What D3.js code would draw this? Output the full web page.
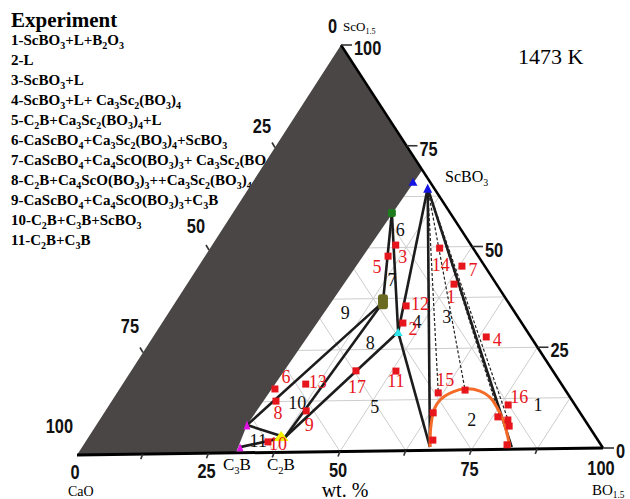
<!DOCTYPE html>
<html>
<head>
<meta charset="utf-8" />
<script src="https://d3js.org/d3.v7.min.js"></script>
<style>
  body { margin: 0; background: #fff; }
  svg text { font-family: "Liberation Serif", "Times New Roman", serif; }
  .axis-num { font-family: "Liberation Sans", Arial, sans-serif; font-weight: bold; font-size: 20px; fill: #111; }
  .legend { font-weight: bold; font-size: 15px; }
</style>
</head>
<body>
<script>
// all compositions are wt%: [BO1.5, ScO1.5], CaO is the rest

const tickValues = [0, 25, 50, 75, 100];

const legendTitle = "Experiment";
const legendItems = [
  "1-ScBO_3+L+B_2O_3",
  "2-L",
  "3-ScBO_3+L",
  "4-ScBO_3+L+ Ca_3Sc_2(BO_3)_4",
  "5-C_2B+Ca_3Sc_2(BO_3)_4+L",
  "6-CaScBO_4+Ca_3Sc_2(BO_3)_4+ScBO_3",
  "7-CaScBO_4+Ca_4ScO(BO_3)_3+ Ca_3Sc_2(BO_3)_4",
  "8-C_2B+Ca_4ScO(BO_3)_3++Ca_3Sc_2(BO_3)_4",
  "9-CaScBO_4+Ca_4ScO(BO_3)_3+C_3B",
  "10-C_2B+C_3B+ScBO_3",
  "11-C_2B+C_3B"
];

// phases / tie-line nodes
const phaseNodes = {
  ScBO3: [34.3, 64.5],
  CaScBO4: [30.5, 58.5],
  Ca4ScO: [39.8, 36.6],
  Ca3Sc2: [46.4, 29.2],
  C3Bup: [28.9, 6.8],
  C3Blow: [30.3, 1.4],
  C2B: [37.7, 3.7],
  Lleft: [66.7, 0.8],
  Lright: [82.4, 0.5]
};

const tieLines = [
  ["C3Bup", "Ca4ScO"], ["C2B", "Ca4ScO"], ["C2B", "Ca3Sc2"],
  ["CaScBO4", "Ca4ScO"], ["CaScBO4", "Ca3Sc2"], ["ScBO3", "Ca3Sc2"],
  ["Ca3Sc2", "Lleft"], ["ScBO3", "Lleft"], ["ScBO3", "Lright"],
  ["C3Bup", "C2B"], ["C3Blow", "C2B"]
];

// dashed tie lines from ScBO3 to the liquid boundary
const dashedEnds = [[61.6, 14.1], [66.4, 14.7], [76.0, 8.5], [77.8, 7.9]];

// liquid region boundary (orange)
const liquidLine = [
  [66.7, 0.8], [64.4, 5.7], [62.9, 9.9], [62.8, 12.3], [64.3, 14.3], [66.3, 15.0],
  [69.4, 14.4], [72.0, 12.9], [74.6, 10.4], [77.4, 7.2], [80.4, 3.0], [82.0, 0.55]
];

// unexplored area (dark grey)
const greyArea = [[0, 0], [0, 100], [31, 69], [28.9, 6.8], [30.2, 0]];

// experiment samples
const expId = [1, 2, 3, 4, 5, 6, 7, 8, 9, 10, 11, 12, 13, 14, 15, 16, 17];
const expBO = [51.2, 46.2, 35.2, 63.9, 35.1, 29.8, 50.5, 31.5, 38.5, 35.0, 50.8, 44.7, 35.1, 44.0, 61.6, 76.5, 43.1];
const expSc = [40.8, 31.4, 50.6, 27.7, 47.9, 15.6, 45.2, 12.6, 10.1, 2.6, 19.6, 35.6, 16.7, 49.7, 14.1, 10.9, 19.8];
// unnumbered samples on the liquid boundary
const extraSamples = [[66.4, 14.7], [76.0, 8.0], [78.3, 7.2], [79.3, 5.7], [63.1, 9.2], [66.4, 2.5], [81.2, 1.1]];

const regionText = ["1", "2", "3", "4", "5", "6", "7", "8", "9", "10", "11"];
const regionBO = [82.2, 71.4, 53.9, 48.8, 51.2, 34.2, 38.8, 42.4, 33.9, 35.8, 33.0];
const regionSc = [10.8, 7.3, 32.7, 31.6, 10.8, 54.3, 42.0, 26.6, 34.1, 12.1, 2.9];

// label offsets (px) for sample numbers
const expLabelOffset = {
  1: [-3, 13], 2: [10, 6], 3: [7, 12], 4: [11, 3], 5: [-11, 11], 6: [11, -12],
  7: [11, 4], 8: [2, 12], 9: [3, 14], 10: [10, 2], 11: [0, 10], 12: [14, -2],
  13: [12, -2], 14: [1, 17], 15: [7, -13], 16: [11, -8], 17: [1, 16]
};

const width = 630, height = 499;
const svg = d3.select('body').append('svg')
  .attr('width', width).attr('height', height);

// ternary frame
const corner = { CaO: [77, 455], BO: [603, 448], Sc: [341, 45] };
const bx = d3.scaleLinear().domain([0, 100]).range([0, corner.BO[0] - corner.CaO[0]]);
const by = d3.scaleLinear().domain([0, 100]).range([0, corner.BO[1] - corner.CaO[1]]);
const sx = d3.scaleLinear().domain([0, 100]).range([0, corner.Sc[0] - corner.CaO[0]]);
const sy = d3.scaleLinear().domain([0, 100]).range([0, corner.Sc[1] - corner.CaO[1]]);
const px = (b, s) => corner.CaO[0] + bx(b) + sx(s);
const py = (b, s) => corner.CaO[1] + by(b) + sy(s);
const pt = d => [px(d[0], d[1]), py(d[0], d[1])];

const line = d3.line().x(d => px(d[0], d[1])).y(d => py(d[0], d[1]));

function richText(sel, str, subSize, shift) {
  const parts = str.split(/(_\{[^}]*\}|_.)/);
  let down = false;
  parts.forEach(p => {
    if (!p) return;
    if (p[0] === '_') {
      const t = p[1] === '{' ? p.slice(2, -1) : p.slice(1);
      sel.append('tspan').attr('dy', down ? 0 : shift).attr('font-size', subSize).text(t);
      down = true;
    } else {
      sel.append('tspan').attr('dy', down ? -shift : 0).text(p);
      down = false;
    }
  });
}

// grid every 12.5 %
const grid = svg.append('g').attr('stroke', '#cdcdcd').attr('stroke-width', 1).attr('fill', 'none');
d3.range(12.5, 100, 12.5).forEach(v => {
  grid.append('path').attr('d', line([[0, v], [100 - v, v]]));
  grid.append('path').attr('d', line([[v, 0], [v, 100 - v]]));
  grid.append('path').attr('d', line([[100 - v, 0], [0, 100 - v]]));
});

// legend (drawn under the grey area)
svg.append('text').attr('x', 11).attr('y', 27)
  .attr('font-size', 21).attr('font-weight', 'bold').text(legendTitle);
legendItems.forEach((item, i) => {
  const t = svg.append('text').attr('class', 'legend').attr('x', 11).attr('y', 45 + i * 20);
  richText(t, item, 10, 4);
});

// grey area
svg.append('path').attr('d', line(greyArea) + 'Z').attr('fill', '#4a4646');

// frame edges
svg.append('path').attr('d', line([[0, 0], [100, 0]]))
  .attr('stroke', '#000').attr('stroke-width', 3).attr('fill', 'none');
svg.append('path').attr('d', line([[100, 0], [0, 100]]))
  .attr('stroke', '#000').attr('stroke-width', 2.5).attr('fill', 'none');

// ticks and numbers
const ticks = svg.append('g').attr('stroke', '#333').attr('stroke-width', 1.6);
// right side: ScO1.5
tickValues.forEach(v => {
  const [x, y] = pt([100 - v, v]);
  ticks.append('line').attr('x1', x).attr('y1', y).attr('x2', x + 11).attr('y2', y);
  svg.append('text').attr('class', 'axis-num')
    .attr('transform', `translate(${x + 13},${y + 3}) scale(0.82,1)`)
    .attr('dominant-baseline', 'central').text(v);
});
// bottom: BO1.5
d3.range(12.5, 100, 12.5).forEach(v => {
  const [x, y] = pt([v, 0]);
  ticks.append('line').attr('x1', x).attr('y1', y).attr('x2', x - 2).attr('y2', y + 5);
});
tickValues.forEach(v => {
  const [x, y] = pt([v, 0]);
  svg.append('text').attr('class', 'axis-num')
    .attr('transform', `translate(${x - 2},${y + 17 + v * 0.03}) scale(0.82,1)`)
    .attr('text-anchor', 'middle').attr('dominant-baseline', 'central').text(v);
});
// left side: CaO
tickValues.forEach(v => {
  const [x, y] = pt([0, 100 - v]);
  if (v > 0 && v < 100) {
    ticks.append('line').attr('x1', x).attr('y1', y).attr('x2', x - 3).attr('y2', y - 5);
  }
  svg.append('text').attr('class', 'axis-num')
    .attr('transform', `translate(${x - 4},${y - 19 - v * 0.1}) scale(0.82,1)`)
    .attr('text-anchor', 'end').attr('dominant-baseline', 'central').text(v);
});

// corner and phase names
const name = (x, y, size, str) => {
  const t = svg.append('text').attr('x', x).attr('y', y).attr('font-size', size);
  richText(t, str, size * 0.62, size * 0.22);
};
name(343, 31, 13, "ScO_{1.5}");
name(68, 496, 14, "CaO");
name(592, 495, 15, "BO_{1.5}");
name(445, 182, 16, "ScBO_3");
name(223, 470, 17, "C_3B");
name(267, 470, 17, "C_2B");
svg.append('text').attr('x', 345).attr('y', 497).attr('font-size', 20)
  .attr('text-anchor', 'middle').text('wt. %');
svg.append('text').attr('x', 518).attr('y', 64).attr('font-size', 22).text('1473 K');

// tie lines
svg.append('g').selectAll('path').data(tieLines).join('path')
  .attr('d', d => line([phaseNodes[d[0]], phaseNodes[d[1]]]))
  .attr('stroke', '#1c1c1c').attr('stroke-width', 2.6).attr('fill', 'none');
svg.append('g').selectAll('path').data(dashedEnds).join('path')
  .attr('d', d => line([phaseNodes.ScBO3, d]))
  .attr('stroke', '#222').attr('stroke-width', 1.2).attr('stroke-dasharray', '3,2').attr('fill', 'none');

// liquid boundary
svg.append('path').attr('d', line.curve(d3.curveCatmullRom)(liquidLine))
  .attr('stroke', '#f46b28').attr('stroke-width', 3).attr('fill', 'none');
line.curve(d3.curveLinear);

// phase point symbols
const tri = (d, w, h, color) => {
  const [x, y] = pt(d);
  svg.append('path').attr('d', `M${x - w / 2},${y + h / 2}L${x + w / 2},${y + h / 2}L${x},${y - h / 2}Z`)
    .attr('fill', color);
};
tri(phaseNodes.ScBO3, 9, 9, '#1414e6');
tri([30.7, 66.1], 9, 8, '#1414e6');
tri(phaseNodes.Ca3Sc2, 9, 8, '#2ee6ee');
tri([36.8, 4.0], 15, 10, '#f2f200');
tri(phaseNodes.C3Bup, 7, 9, '#e014e0');
tri(phaseNodes.C3Blow, 7, 8, '#e014e0');
{
  const [x, y] = pt(phaseNodes.CaScBO4);
  svg.append('rect').attr('x', x - 4).attr('y', y - 4).attr('width', 8).attr('height', 8)
    .attr('rx', 2).attr('fill', '#1d7a1d');
  const [ox, oy] = pt(phaseNodes.Ca4ScO);
  svg.append('rect').attr('x', ox - 5).attr('y', oy - 8).attr('width', 10).attr('height', 15)
    .attr('rx', 3).attr('fill', '#6b6a22');
}

// region numbers
svg.append('g').selectAll('text').data(regionText).join('text')
  .attr('x', (d, i) => px(regionBO[i], regionSc[i]))
  .attr('y', (d, i) => py(regionBO[i], regionSc[i]))
  .attr('font-size', 18).attr('fill', '#111')
  .attr('text-anchor', 'middle').attr('dominant-baseline', 'central').text(d => d);

// samples
const red = '#e6161c';
svg.append('g').selectAll('rect').data(extraSamples).join('rect')
  .attr('x', d => pt(d)[0] - 3.5).attr('y', d => pt(d)[1] - 3.5)
  .attr('width', 7).attr('height', 7).attr('fill', red);
const samples = svg.append('g').selectAll('g').data(expId).join('g');
samples.append('rect')
  .attr('x', (d, i) => px(expBO[i], expSc[i]) - 3.5)
  .attr('y', (d, i) => py(expBO[i], expSc[i]) - 3.5)
  .attr('width', 7).attr('height', 7).attr('fill', red);
samples.append('text')
  .attr('x', (d, i) => px(expBO[i], expSc[i]) + expLabelOffset[d][0])
  .attr('y', (d, i) => py(expBO[i], expSc[i]) + expLabelOffset[d][1])
  .attr('font-size', 18).attr('fill', red)
  .attr('text-anchor', 'middle').attr('dominant-baseline', 'central').text(d => d);
</script>
</body>
</html>
